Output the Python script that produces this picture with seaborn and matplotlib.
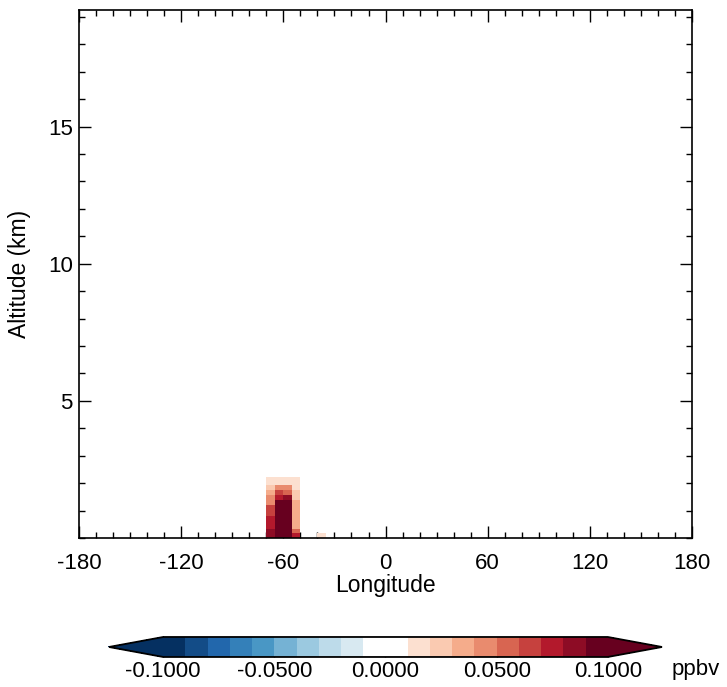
import numpy as np
import pandas as pd
import matplotlib
matplotlib.use("Agg")
import matplotlib.pyplot as plt
from matplotlib.colors import ListedColormap
from matplotlib.ticker import MultipleLocator
import seaborn as sns

sns.set_theme(style="ticks")
plt.rcParams['font.family'] = ['Liberation Sans', 'DejaVu Sans']
plt.rcParams['text.color'] = 'black'
plt.rcParams['axes.labelcolor'] = 'black'
plt.rcParams['xtick.color'] = 'black'
plt.rcParams['ytick.color'] = 'black'

# 经度格点（中心，5°分辨率）与高度层边界（km）
lon_cells = [-67.5, -62.5, -57.5, -52.5, -37.5]
alt_edges = [0.0, 0.17, 0.34, 0.79, 1.19, 1.39, 1.56, 1.76, 1.95, 2.24]
lon_edges = [-70, -65, -60, -55, -50, -45, -40, -35]

# 各列浓度变化（ppbv），自下而上
col_m675 = [0.085, 0.085, 0.075, 0.065, 0.045, 0.045, 0.035, 0.025, 0.015]
col_m625 = [0.095, 0.095, 0.095, 0.095, 0.095, 0.075, 0.065, 0.045, 0.015]
col_m575 = [0.095, 0.095, 0.095, 0.095, 0.095, 0.085, 0.055, 0.045, 0.015]
col_m525 = [0.070, 0.055, 0.035, 0.035, 0.035, 0.025, 0.025, 0.015, 0.015]
col_m375 = [0.015, 0.0, 0.0, 0.0, 0.0, 0.0, 0.0, 0.0, 0.0]

cbar_ticks = [-0.1, -0.05, 0.0, 0.05, 0.1]
xticks = [-180, -120, -60, 0, 60, 120, 180]
yticks = [5, 10, 15]

# %%
alt_mid = [(a + b) / 2 for a, b in zip(alt_edges[:-1], alt_edges[1:])]
rows = []
for lon, col in zip(lon_cells, [col_m675, col_m625, col_m575, col_m525, col_m375]):
    for alt, v in zip(alt_mid, col):
        rows.append({'lon': lon, 'alt': alt, 'val': v})
df = pd.DataFrame(rows)

# 色标：RdBu_r 分 20 档，中间两档为白色
seg = plt.get_cmap('RdBu_r')(np.linspace(0, 1, 20))
seg[9] = [1, 1, 1, 1]
seg[10] = [1, 1, 1, 1]
cmap = ListedColormap(seg)
cmap.set_under(seg[0])
cmap.set_over(seg[19])

fig = plt.figure(figsize=(7.27, 6.87), dpi=100)
ax = fig.add_axes([0.1087, 0.2169, 0.8432, 0.7685])
cax = fig.add_axes([0.1499, 0.0437, 0.7607, 0.0291])

sns.histplot(data=df, x='lon', y='alt', weights='val',
             bins=(lon_edges, alt_edges), cmap=cmap, vmin=-0.1, vmax=0.1, ax=ax)

ax.set_xlim(-180, 180)
ax.set_ylim(0, 19.25)
ax.set_xticks(xticks)
ax.set_xticklabels([str(t) for t in xticks])
ax.set_yticks(yticks)
ax.xaxis.set_minor_locator(MultipleLocator(10))
ax.yaxis.set_minor_locator(MultipleLocator(1))
ax.tick_params(which='both', direction='in', top=True, right=True,
               labelsize=16, width=1.0, color='black', labelcolor='black')
ax.tick_params(axis='x', which='both', pad=11)
ax.tick_params(axis='y', which='both', pad=4.5)
ax.tick_params(which='major', length=8.5)
ax.tick_params(which='minor', length=4.3)
for s in ax.spines.values():
    s.set_linewidth(1.2)
    s.set_color('black')
ax.set_xlabel('Longitude', fontsize=16.5, labelpad=0)
ax.set_ylabel('Altitude (km)', fontsize=16.5, labelpad=12)

mesh = ax.collections[0]
cb = fig.colorbar(mesh, cax=cax, orientation='horizontal', extend='both',
                  extendfrac=0.122, ticks=cbar_ticks)
cb.ax.set_xticklabels(['%.4f' % t for t in cbar_ticks])
cb.ax.tick_params(direction='in', length=4, width=1, top=True, bottom=True,
                  labelsize=16, color='black', labelcolor='black', pad=3)
cb.outline.set_linewidth(1.3)
cb.outline.set_edgecolor('black')
fig.text(0.924, 0.026, 'ppbv', fontsize=16, ha='left', va='center', color='black')

fig.savefig('out.png', dpi=100)
